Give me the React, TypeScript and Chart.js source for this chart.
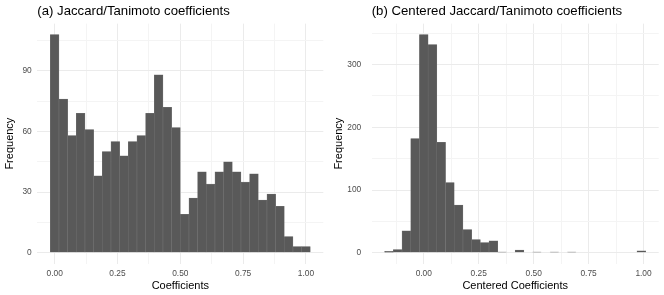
import React, { useEffect, useRef } from "react";
import { Chart, registerables } from "chart.js";

Chart.register(...registerables);

const FONT = "'Liberation Sans', Arial, Helvetica, sans-serif";

// Panel (a): 30 bins centered on k * binWidthA, k = 0..29
const binWidthA = 1 / 29;
const binIndexA = [0, 1, 2, 3, 4, 5, 6, 7, 8, 9, 10, 11, 12, 13, 14, 15, 16, 17, 18, 19, 20, 21, 22, 23, 24, 25, 26, 27, 28, 29];
const countsA = [108, 76, 58, 69, 61, 38, 50, 55, 48, 55, 58, 69, 88, 72, 62, 19, 27, 40, 34, 40, 45, 40, 35, 39, 26, 29, 23, 8, 3, 3];
const xTicksA = [0, 0.125, 0.25, 0.375, 0.5, 0.625, 0.75, 0.875, 1];
const yTicksA = [0, 15, 30, 45, 60, 75, 90, 105];

// Panel (b): 30 bins centered on k * binWidthB, k = -4..25
const binWidthB = 0.0396;
const binIndexB = [-4, -3, -2, -1, 0, 1, 2, 3, 4, 5, 6, 7, 8, 9, 10, 11, 12, 13, 14, 15, 16, 17, 18, 19, 20, 21, 22, 23, 24, 25];
const countsB = [2, 5, 35, 182, 348, 332, 176, 112, 76, 37, 21, 16, 19, 1, 0, 4, 0, 1, 0, 1, 0, 1, 0, 0, 0, 0, 0, 0, 0, 3];
const xTicksB = [-0.125, 0, 0.125, 0.25, 0.375, 0.5, 0.625, 0.75, 0.875, 1];
const yTicksB = [0, 50, 100, 150, 200, 250, 300, 350];

type Panel = {
  title: string;
  xTitle: string;
  binWidth: number;
  binIndex: number[];
  counts: number[];
  xTicks: number[];
  yTicks: number[];
  xMajor: number;
  yMajor: number;
  xMin: number;
  xMax: number;
  yAxisWidth: number;
  padRight: number;
  yTickPad: number;
  yTitlePad: number;
};

const panels: Panel[] = [
  {
    title: "(a) Jaccard/Tanimoto coefficients",
    xTitle: "Coefficients",
    binWidth: binWidthA,
    binIndex: binIndexA,
    counts: countsA,
    xTicks: xTicksA,
    yTicks: yTicksA,
    xMajor: 0.25,
    yMajor: 30,
    xMin: -0.069,
    xMax: 1.069,
    yAxisWidth: 37.3,
    padRight: 8.7,
    yTickPad: 5.6,
    yTitlePad: 3.1,
  },
  {
    title: "(b) Centered Jaccard/Tanimoto coefficients",
    xTitle: "Centered Coefficients",
    binWidth: binWidthB,
    binIndex: binIndexB,
    counts: countsB,
    xTicks: xTicksB,
    yTicks: yTicksB,
    xMajor: 0.25,
    yMajor: 100,
    xMin: -0.237,
    xMax: 1.069,
    yAxisWidth: 39.7,
    padRight: 5.3,
    yTickPad: 10.5,
    yTitlePad: 0.8,
  },
];

const isMult = (v: number, m: number) => Math.abs(v / m - Math.round(v / m)) < 1e-6;

function makeConfig(p: Panel): any {
  const maxCount = Math.max(...p.counts);
  const data = p.binIndex.map((k, i) => ({ x: k * p.binWidth, y: p.counts[i] }));
  return {
    type: "bar",
    data: {
      datasets: [
        {
          data,
          backgroundColor: "#595959",
          borderColor: "#737373",
          borderWidth: 0.5,
          barPercentage: 1,
          categoryPercentage: 1,
        },
      ],
    },
    options: {
      animation: false,
      responsive: false,
      maintainAspectRatio: false,
      layout: { padding: { left: 0, right: p.padRight, top: 0, bottom: 0 } },
      plugins: {
        legend: { display: false },
        tooltip: { enabled: false },
        title: {
          display: true,
          text: p.title,
          align: "start",
          fullSize: false,
          color: "#000000",
          font: { family: FONT, size: 13.2, weight: "normal", lineHeight: 1.2 },
          padding: { top: 3.3, bottom: 4.5 },
        },
      },
      scales: {
        x: {
          type: "linear",
          min: p.xMin,
          max: p.xMax,
          offset: false,
          grid: {
            offset: false,
            drawTicks: false,
            color: (ctx: any) => (ctx.tick && isMult(ctx.tick.value, p.xMajor) ? "#ebebeb" : "#f4f4f4"),
            lineWidth: 1,
          },
          border: { display: false },
          afterBuildTicks: (s: any) => {
            s.ticks = p.xTicks.map((v) => ({ value: v }));
          },
          afterFit: (s: any) => {
            s.height = 31.4;
          },
          ticks: {
            autoSkip: false,
            maxRotation: 0,
            padding: 5.4,
            color: "#4d4d4d",
            font: { family: FONT, size: 8.4 },
            callback: (v: any) => (isMult(Number(v), p.xMajor) ? Number(v).toFixed(2) : ""),
          },
          title: {
            display: true,
            text: p.xTitle,
            color: "#000000",
            font: { family: FONT, size: 11 },
            padding: { top: 0, bottom: 2.2 },
          },
        },
        y: {
          type: "linear",
          min: -0.05 * maxCount,
          max: 1.05 * maxCount,
          grid: {
            drawTicks: false,
            color: (ctx: any) => (ctx.tick && isMult(ctx.tick.value, p.yMajor) ? "#ebebeb" : "#f4f4f4"),
            lineWidth: 1,
          },
          border: { display: false },
          afterBuildTicks: (s: any) => {
            s.ticks = p.yTicks.map((v) => ({ value: v }));
          },
          afterFit: (s: any) => {
            s.width = p.yAxisWidth;
          },
          ticks: {
            autoSkip: false,
            padding: p.yTickPad,
            color: "#4d4d4d",
            font: { family: FONT, size: 8.4 },
            callback: (v: any) => (isMult(Number(v), p.yMajor) ? String(v) : ""),
          },
          title: {
            display: true,
            text: "Frequency",
            color: "#000000",
            font: { family: FONT, size: 11 },
            padding: { top: p.yTitlePad, bottom: 0 },
          },
        },
      },
    },
  };
}

function PanelChart({ panel, left }: { panel: Panel; left: number }) {
  const ref = useRef<HTMLCanvasElement | null>(null);
  useEffect(() => {
    if (!ref.current) return;
    const chart = new Chart(ref.current, makeConfig(panel));
    return () => chart.destroy();
  }, [panel]);
  return (
    <canvas
      ref={ref}
      width={332}
      height={295}
      style={{ position: "absolute", left, top: 0, width: 332, height: 295 }}
    />
  );
}

export default function App() {
  return (
    <div
      style={{
        position: "fixed",
        left: 0,
        top: 0,
        width: 664,
        height: 295,
        background: "#ffffff",
        overflow: "hidden",
      }}
    >
      <PanelChart panel={panels[0]} left={0} />
      <PanelChart panel={panels[1]} left={332} />
    </div>
  );
}
